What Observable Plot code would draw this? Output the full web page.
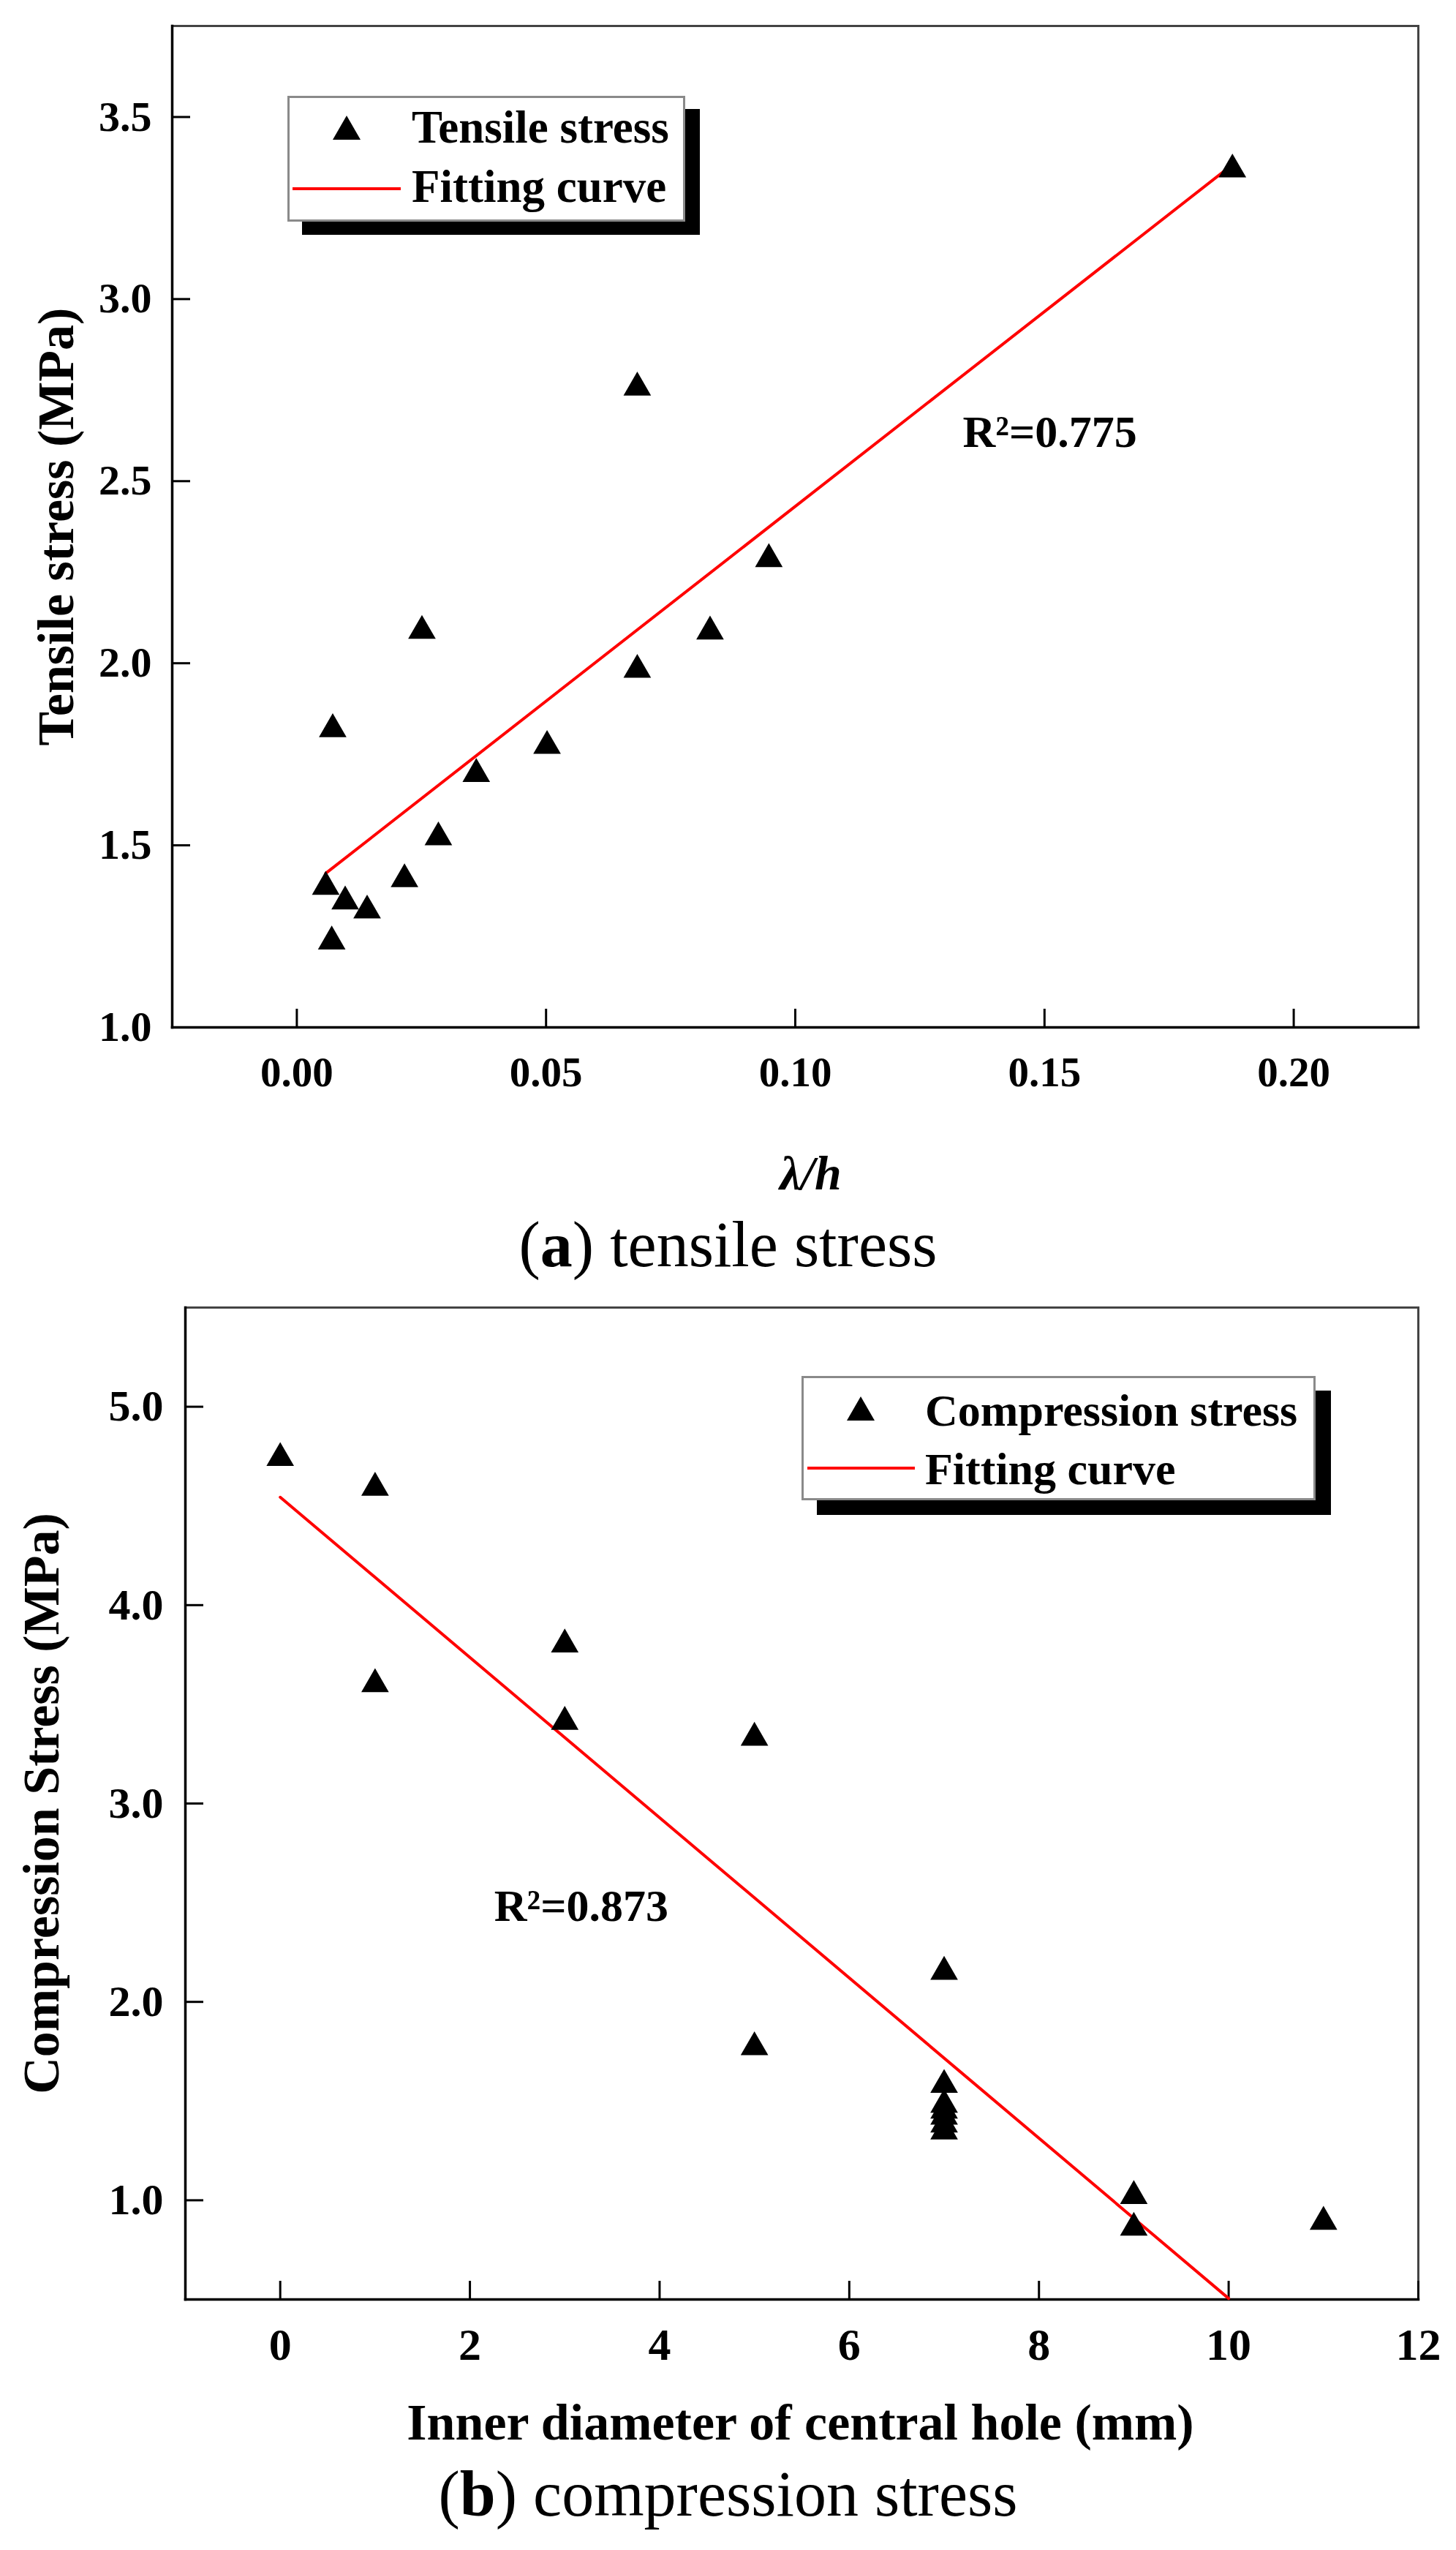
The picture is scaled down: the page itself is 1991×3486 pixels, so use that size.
<!DOCTYPE html>
<html><head><meta charset="utf-8">
<script src="https://cdn.jsdelivr.net/npm/d3@7"></script>
<script src="https://cdn.jsdelivr.net/npm/@observablehq/plot@0.6"></script>
<style>
html,body{margin:0;padding:0;background:#fff;}
#page{position:relative;width:1991px;height:3486px;background:#fff;font-family:"Liberation Serif","Times New Roman",serif;overflow:hidden}
#page svg{position:absolute;left:0;overflow:visible}
.abs{position:absolute;white-space:nowrap;line-height:1;font-weight:bold;color:#000}
.legend{position:absolute;background:#fff;border:3px solid #8a8a8a;box-sizing:border-box}
.tri{position:absolute;width:0;height:0;border-left:19px solid transparent;border-right:19px solid transparent;border-bottom:33px solid #000}
.red{position:absolute;height:4px;background:#ff0000}
.cap{position:absolute;left:0;width:1991px;text-align:center;font-size:88px;line-height:1;white-space:nowrap;color:#000}
</style></head><body><div id="page"></div>
<script>
// ---------- Panel (a): tensile stress ----------
const tensileX = [0.0058, 0.0070, 0.0072, 0.0097, 0.0141, 0.0216, 0.0251, 0.0284, 0.0360, 0.0502, 0.0683, 0.0683, 0.0829, 0.0947, 0.1877];
const tensileY = [1.396, 1.246, 1.829, 1.356, 1.331, 1.417, 2.099, 1.532, 1.706, 1.783, 1.992, 2.767, 2.097, 2.296, 3.366];
const fitAX = [0.0058, 0.1877];
const fitAY = [1.423, 3.369];
const aXTicks = [0.00, 0.05, 0.10, 0.15, 0.20];
const aYTicks = [1.0, 1.5, 2.0, 2.5, 3.0, 3.5];
const aXDomain = [-0.025, 0.225];
const aYDomain = [1.0, 3.75];
const aR2Text = ["R\u00B2=0.775"];
const aR2X = [0.1336];
const aR2Y = [2.634];

// ---------- Panel (b): compression stress ----------
const compX = [0, 1, 1, 3, 3, 5, 5, 7, 7, 7, 7, 7, 7, 7, 9, 9, 11];
const compY = [4.76, 4.61, 3.62, 3.82, 3.43, 3.35, 1.79, 2.17, 1.60, 1.50, 1.47, 1.44, 1.40, 1.365, 1.04, 0.88, 0.91];
const fitBX = [0, 10];
const fitBY = [4.544, 0.505];
const bXTicks = [0, 2, 4, 6, 8, 10, 12];
const bYTicks = [1.0, 2.0, 3.0, 4.0, 5.0];
const bXDomain = [-1, 12];
const bYDomain = [0.5, 5.5];
const bR2Text = ["R\u00B2=0.873"];
const bR2X = [2.256];
const bR2Y = [2.483];

const FONT = "'Liberation Serif','Times New Roman',serif";

function panel(o) {
  const pts = o.xs.map((x, i) => ({x, y: o.ys[i]}));
  const fit = o.fx.map((x, i) => ({x, y: o.fy[i]}));
  const r2 = o.r2t.map((t, i) => ({t, x: o.r2x[i], y: o.r2y[i]}));
  return Plot.plot({
    width: 1991, height: o.height,
    marginTop: o.mt, marginRight: 52, marginBottom: o.mb, marginLeft: o.ml,
    style: {fontFamily: FONT, background: "transparent", overflow: "visible", color: "#000"},
    x: {domain: o.xd},
    y: {domain: o.yd},
    marks: [
      Plot.frame({stroke: "#444", strokeWidth: 3}),
      Plot.frame({anchor: "left", stroke: "#000", strokeWidth: 3.5}),
      Plot.frame({anchor: "bottom", stroke: "#000", strokeWidth: 3.5}),
      Plot.axisX(o.xt, {tickSize: 25, dy: -25, fill: "none", stroke: "#000", strokeWidth: 3, label: null}),
      Plot.axisY(o.yt, {tickSize: 25, dx: 25, fill: "none", stroke: "#000", strokeWidth: 3, label: null}),
      Plot.axisX(o.xt, {tickSize: 0, tickPadding: o.xpad, stroke: "none", tickFormat: o.xf, fontSize: o.xfs, fontWeight: "bold", label: null}),
      Plot.axisY(o.yt, {tickSize: 0, tickPadding: o.ypad, stroke: "none", tickFormat: d3.format(".1f"), fontSize: o.yfs, fontWeight: "bold", label: null}),
      Plot.line(fit, {x: "x", y: "y", stroke: "#ff0000", strokeWidth: 4}),
      Plot.dot(pts, {x: "x", y: "y", symbol: "triangle", r: 14, fill: "#000", stroke: "none", dy: 5}),
      Plot.text(r2, {x: "x", y: "y", text: "t", textAnchor: "start", lineAnchor: "middle", fontSize: 62, fontWeight: "bold"}),
      Plot.text([o.xlabel], {text: d => d, frameAnchor: "bottom", textAnchor: "middle", lineAnchor: "middle", dx: o.xldx, dy: o.xldy, fontSize: o.xlfs, fontWeight: "bold", fontStyle: o.xlstyle}),
      Plot.text([o.ylabel], {text: d => d, frameAnchor: "left", textAnchor: "middle", lineAnchor: "middle", dx: o.yldx, rotate: -90, fontSize: 70, fontWeight: "bold"})
    ]
  });
}

const page = document.getElementById("page");

const svgA = panel({
  height: 1660, mt: 35, mb: 256, ml: 235,
  xs: tensileX, ys: tensileY, fx: fitAX, fy: fitAY,
  xd: aXDomain, yd: aYDomain, xt: aXTicks, yt: aYTicks,
  xf: d3.format(".2f"), xpad: 40, ypad: 28, xfs: 57, yfs: 58,
  r2t: aR2Text, r2x: aR2X, r2y: aR2Y,
  xlabel: "\u03BB/h", xldx: 21, xldy: 200, xlfs: 66, xlstyle: "italic",
  ylabel: "Tensile stress (MPa)", yldx: -158
});
svgA.style.top = "0px";
page.appendChild(svgA);

const svgB = panel({
  height: 1620, mt: 37, mb: 227, ml: 253,
  xs: compX, ys: compY, fx: fitBX, fy: fitBY,
  xd: bXDomain, yd: bYDomain, xt: bXTicks, yt: bYTicks,
  xf: d3.format("d"), xpad: 38, ypad: 30, xfs: 62, yfs: 60,
  r2t: bR2Text, r2x: bR2X, r2y: bR2Y,
  xlabel: "Inner diameter of central hole (mm)", xldx: -2, xldy: 169, xlfs: 70, xlstyle: "normal",
  ylabel: "Compression Stress (MPa)", yldx: -196
});
svgB.style.top = "1750px";
page.appendChild(svgB);

function el(cls, css, html) {
  const d = document.createElement("div");
  d.className = cls;
  Object.assign(d.style, css);
  if (html != null) d.innerHTML = html;
  page.appendChild(d);
  return d;
}

// Legend (a)
el("legend", {left: "393px", top: "131px", width: "544px", height: "172px", boxShadow: "20px 18px 0 0 #000"});
el("tri", {left: "455px", top: "158px"});
el("abs", {left: "563px", top: "143px", fontSize: "63px"}, "Tensile stress");
el("red", {left: "400px", top: "256px", width: "148px"});
el("abs", {left: "563px", top: "224px", fontSize: "63px"}, "Fitting curve");

// Legend (b)
el("legend", {left: "1096px", top: "1881px", width: "703px", height: "170px", boxShadow: "21px 20px 0 0 #000"});
el("tri", {left: "1158px", top: "1909px"});
el("abs", {left: "1265px", top: "1897px", fontSize: "62px"}, "Compression stress");
el("red", {left: "1104px", top: "2005px", width: "147px"});
el("abs", {left: "1265px", top: "1977px", fontSize: "62px"}, "Fitting curve");

// Captions
el("cap", {top: "1658px"}, "(<b>a</b>) tensile stress");
el("cap", {top: "3366px"}, "(<b>b</b>) compression stress");
</script>
</body></html>
